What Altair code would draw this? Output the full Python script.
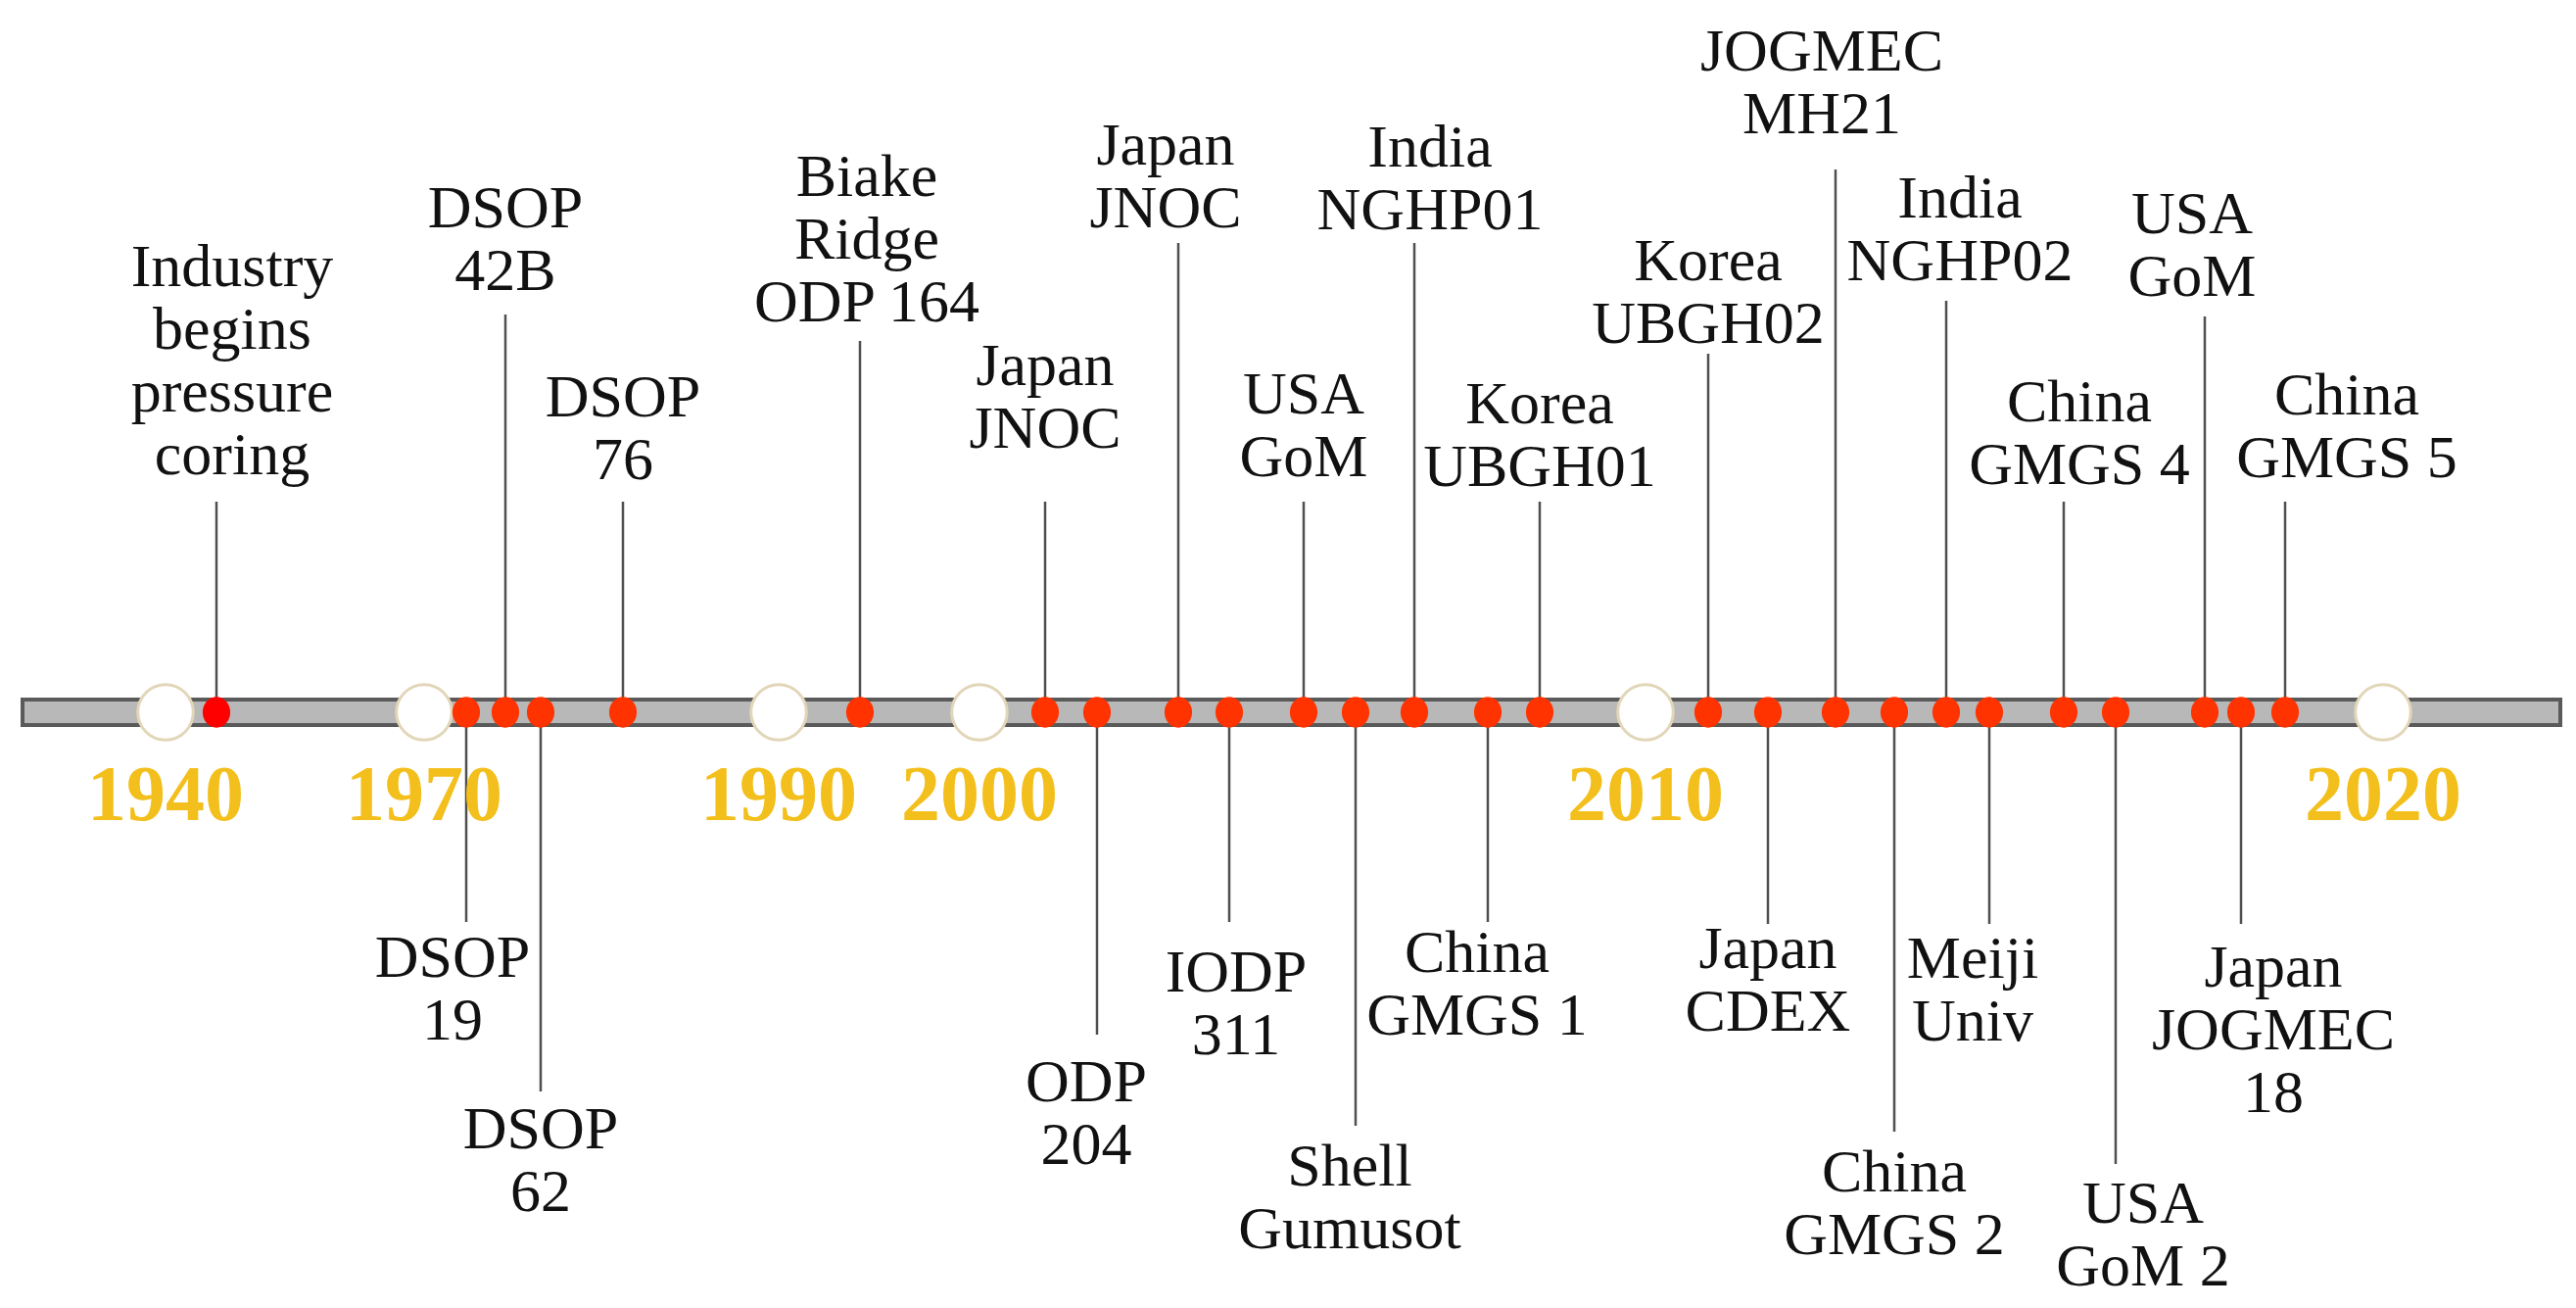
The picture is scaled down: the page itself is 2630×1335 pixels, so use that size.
import altair as alt
import pandas as pd

# ---- data (positions along the timeline, chart units) ----
labels = [
    "Industry\nbegins\npressure\ncoring", "DSOP\n19", "DSOP\n42B", "DSOP\n62", "DSOP\n76",
    "Biake\nRidge\nODP 164", "Japan\nJNOC", "ODP\n204", "Japan\nJNOC", "IODP\n311",
    "USA\nGoM", "Shell\nGumusot", "India\nNGHP01", "China\nGMGS 1", "Korea\nUBGH01",
    "Korea\nUBGH02", "Japan\nCDEX", "JOGMEC\nMH21", "China\nGMGS 2", "India\nNGHP02",
    "Meiji\nUniv", "China\nGMGS 4", "USA\nGoM 2", "USA\nGoM", "Japan\nJOGMEC\n18",
    "China\nGMGS 5",
]
timeline_pos = [221, 476, 516, 552, 636, 878, 1067, 1120, 1203, 1255, 1331, 1384, 1444,
                1519, 1572, 1744, 1805, 1874, 1934, 1987, 2031, 2107, 2160, 2251, 2288, 2333]
side = ["up", "down", "up", "down", "up", "up", "up", "down", "up", "down", "up", "down",
        "up", "down", "up", "up", "down", "up", "down", "up", "down", "up", "down", "up",
        "down", "up"]
stem_end = [512, 941, 321, 1114, 512, 348, 512, 1056, 248, 941, 512, 1149, 248, 941, 512,
            361, 943, 173, 1155, 307, 943, 512, 1188, 323, 943, 512]
label_anchor = [484, 997, 296, 1172, 489, 328, 457, 1124, 232, 1012, 486, 1210, 234, 992,
                496, 350, 988, 136, 1216, 286, 998, 494, 1248, 302, 1007, 487]
label_shift = [16, -14, 0, 0, 0, 7, 0, -11, -13, 7, 0, -6, 16, -11, 0, 0, 0, -14, 0, 14,
               -17, 16, 28, -13, 33, 63]
kind = ["origin"] + ["expedition"] * 25

years = [1940, 1970, 1990, 2000, 2010, 2020]
year_pos = [169, 433, 795, 1000, 1680, 2433]

timeline_start, timeline_end = 23, 2614
timeline_top, timeline_bottom = 714, 740
timeline_mid = 727
year_baseline = 837

# ---- layout constants ----
W, H = 2614, 1319
LINE_H = 64
SERIF = "Liberation Serif, Times New Roman, serif"

rows = []
for lab, p, s, e, a, sh, k in zip(labels, timeline_pos, side, stem_end, label_anchor,
                                  label_shift, kind):
    n = lab.count("\n") + 1
    ty = a - (n - 1) * LINE_H if s == "up" else a
    rows.append(dict(label=lab, pos=p, stem_end=e, mid=timeline_mid,
                     text_x=p + sh, text_y=ty, kind=k))
events = pd.DataFrame(rows)

yrs = pd.DataFrame(dict(year=[str(y) for y in years], pos=year_pos,
                        mid=[timeline_mid] * len(years),
                        base=[year_baseline] * len(years)))
bar = pd.DataFrame(dict(x0=[timeline_start], x1=[timeline_end],
                        y0=[timeline_top], y1=[timeline_bottom]))

xs = alt.Scale(domain=[8, 8 + W])
ys = alt.Scale(domain=[8, 8 + H], reverse=True)

bar_layer = alt.Chart(bar).mark_rect(fill="#B8B8B8", stroke="#5A5A5A", strokeWidth=4).encode(
    x=alt.X("x0:Q", scale=xs, axis=None), x2="x1:Q",
    y=alt.Y("y0:Q", scale=ys, axis=None), y2="y1:Q")

stems = alt.Chart(events).mark_rule(color="#4F4F4F", strokeWidth=2.5).encode(
    x=alt.X("pos:Q", scale=xs, axis=None),
    y=alt.Y("mid:Q", scale=ys, axis=None), y2="stem_end:Q")

circles = alt.Chart(yrs).mark_point(
    shape="circle", filled=True, size=3200, fill="#FFFFFF", stroke="#E2D6B8",
    strokeWidth=3, opacity=1, fillOpacity=1).encode(
    x=alt.X("pos:Q", scale=xs, axis=None),
    y=alt.Y("mid:Q", scale=ys, axis=None))

ELLIPSE = "M-0.9,0A0.9,1,0,1,0,0.9,0A0.9,1,0,1,0,-0.9,0Z"
dots = alt.Chart(events).mark_point(
    shape=ELLIPSE, filled=True, size=980, opacity=1, fillOpacity=1).encode(
    x=alt.X("pos:Q", scale=xs, axis=None),
    y=alt.Y("mid:Q", scale=ys, axis=None),
    color=alt.Color("kind:N", scale=alt.Scale(domain=["origin", "expedition"],
                                              range=["#FF0000", "#FF3300"]), legend=None))

texts = alt.Chart(events).mark_text(
    font=SERIF, fontSize=62, lineHeight=LINE_H, lineBreak="\n", align="center",
    baseline="alphabetic", color="#111111").encode(
    x=alt.X("text_x:Q", scale=xs, axis=None),
    y=alt.Y("text_y:Q", scale=ys, axis=None),
    text="label:N")

year_text = alt.Chart(yrs).mark_text(
    font=SERIF, fontSize=80, fontWeight="bold", color="#F3BF1C", align="center",
    baseline="alphabetic").encode(
    x=alt.X("pos:Q", scale=xs, axis=None),
    y=alt.Y("base:Q", scale=ys, axis=None),
    text="year:N")

chart = alt.layer(bar_layer, stems, circles, dots, texts, year_text).properties(
    width=W, height=H, padding=0, background="#FFFFFF",
    autosize=alt.AutoSizeParams(type="none"),
).configure_view(strokeWidth=0)

chart.save("out.html", embed_options={"renderer": "svg", "actions": False})
